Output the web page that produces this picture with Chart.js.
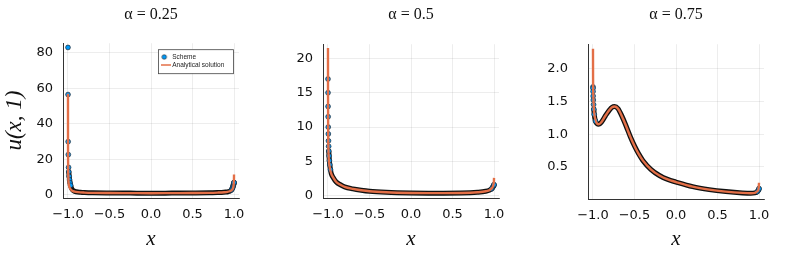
<!DOCTYPE html>
<html>
<head>
<meta charset="utf-8">
<script src="https://cdn.jsdelivr.net/npm/chart.js@4.4.1/dist/chart.umd.min.js"></script>
<style>
  html, body { margin: 0; padding: 0; background: #fff; }
  #wrap { position: relative; width: 793px; height: 253px; overflow: hidden; }
  .panel { position: absolute; top: 0; height: 253px; }
  canvas { display: block; }
</style>
</head>
<body>
<div id="wrap">
  <div class="panel" style="left:0;width:262px"><canvas id="c1" width="262" height="253"></canvas></div>
  <div class="panel" style="left:262px;width:262px"><canvas id="c2" width="262" height="253"></canvas></div>
  <div class="panel" style="left:524px;width:269px"><canvas id="c3" width="269" height="253"></canvas></div>
</div>
<script>
// ---- data ----
const alphaTitles = ["α = 0.25", "α = 0.5", "α = 0.75"];
const xTickValues = [-1, -0.5, 0, 0.5, 1];
const yTicksA25 = [0, 20, 40, 60, 80];
const yTicksA50 = [0, 5, 10, 15, 20];
const yTicksA75 = [0.5, 1.0, 1.5, 2.0];

// alpha = 0.25
const schemeXA25 = [-1, -0.9995, -0.998, -0.996, -0.993, -0.99, -0.986, -0.981, -0.975, -0.968, -0.96, -0.95, -0.93, -0.9, -0.85, -0.8, -0.7, -0.5, -0.25, 0, 0.25, 0.5, 0.7, 0.8, 0.85, 0.9, 0.93, 0.95, 0.96, 0.968, 0.975, 0.981, 0.986, 0.99, 0.993, 0.996, 0.998, 0.9995, 1];
const schemeUA25 = [83, 56.5, 30, 22.7, 15.5, 13, 10.5, 8.5, 6.8, 5.4, 4.2, 3.2, 2.3, 1.8, 1.5, 1.35, 1.2, 1.1, 1.05, 1.0, 1.05, 1.1, 1.2, 1.35, 1.45, 1.65, 1.85, 2.1, 2.4, 2.8, 3.3, 3.9, 4.5, 5.1, 5.7, 6.2, 6.6, 6.9, 7.0];
const exactXA25 = [-1, -0.9995, -0.998, -0.995, -0.99, -0.98, -0.97, -0.95, -0.92, -0.88, -0.8, -0.7, -0.5, -0.25, 0, 0.25, 0.5, 0.7, 0.8, 0.88, 0.92, 0.95, 0.97, 0.98, 0.99, 0.995, 0.998, 0.9995, 1];
const exactUA25 = [57, 30, 16, 9, 6, 4.1, 3.3, 2.4, 1.9, 1.6, 1.35, 1.2, 1.1, 1.05, 1.0, 1.05, 1.1, 1.2, 1.35, 1.55, 1.75, 2.1, 2.6, 3.1, 4.2, 5.6, 7.5, 9.5, 11.5];

// alpha = 0.5
const schemeXA50 = [-1, -0.9995, -0.999, -0.998, -0.997, -0.996, -0.994, -0.992, -0.99, -0.987, -0.983, -0.978, -0.97, -0.96, -0.94, -0.9, -0.85, -0.8, -0.7, -0.6, -0.5, -0.3, 0, 0.3, 0.6, 0.8, 0.9, 0.95, 0.97, 0.98, 0.99, 0.995, 0.998, 1];
const schemeUA50 = [17, 15, 13, 11.5, 10, 9, 8, 7.2, 6.5, 5.8, 5.1, 4.5, 3.8, 3.2, 2.7, 2.0, 1.6, 1.3, 1.0, 0.8, 0.65, 0.5, 0.4, 0.38, 0.4, 0.5, 0.65, 0.85, 1.0, 1.15, 1.35, 1.45, 1.55, 1.6];
const exactXA50 = [-1, -0.9995, -0.998, -0.995, -0.99, -0.98, -0.96, -0.94, -0.9, -0.85, -0.8, -0.7, -0.6, -0.5, -0.3, 0, 0.3, 0.6, 0.8, 0.9, 0.95, 0.98, 0.99, 0.996, 0.999, 1];
const exactUA50 = [21.5, 15, 10, 7, 5.3, 4.2, 3.2, 2.7, 2.0, 1.6, 1.3, 1.0, 0.8, 0.65, 0.5, 0.4, 0.38, 0.4, 0.5, 0.65, 0.85, 1.2, 1.45, 1.8, 2.2, 2.6];

// alpha = 0.75
const schemeXA75 = [-1, -0.9995, -0.999, -0.998, -0.996, -0.993, -0.99, -0.985, -0.97, -0.95, -0.93, -0.9, -0.85, -0.8, -0.77, -0.74, -0.7, -0.65, -0.6, -0.55, -0.5, -0.45, -0.4, -0.3, -0.2, -0.1, 0, 0.2, 0.4, 0.6, 0.8, 0.9, 0.95, 0.98, 0.995, 1];
const schemeUA75 = [1.72, 1.7, 1.65, 1.58, 1.52, 1.45, 1.38, 1.3, 1.2, 1.16, 1.15, 1.18, 1.28, 1.37, 1.41, 1.42, 1.39, 1.27, 1.12, 0.96, 0.82, 0.7, 0.6, 0.46, 0.37, 0.31, 0.27, 0.2, 0.155, 0.125, 0.105, 0.1, 0.105, 0.125, 0.15, 0.17];
const exactXA75 = [-1, -0.999, -0.997, -0.993, -0.985, -0.97, -0.95, -0.93, -0.9, -0.85, -0.8, -0.77, -0.74, -0.7, -0.65, -0.6, -0.55, -0.5, -0.45, -0.4, -0.3, -0.2, -0.1, 0, 0.2, 0.4, 0.6, 0.8, 0.9, 0.95, 0.98, 0.995, 1];
const exactUA75 = [2.3, 1.85, 1.65, 1.48, 1.32, 1.22, 1.16, 1.15, 1.18, 1.28, 1.37, 1.41, 1.42, 1.39, 1.27, 1.12, 0.96, 0.82, 0.7, 0.6, 0.46, 0.37, 0.31, 0.27, 0.2, 0.155, 0.125, 0.105, 0.1, 0.105, 0.13, 0.17, 0.26];

// ---- styling ----
const BLUE = "#009AFA";
const RED = "#E36F47";
const BAND = "#111111";
const GRID = "rgba(0,0,0,0.12)";
const AXIS = "#333333";
const TICK_FONT = { family: "DejaVu Sans", size: 13 };
const SERIF = "Liberation Serif";

const toPts = (xs, ys) => xs.map((x, i) => ({ x, y: ys[i] }));
const minus = (s) => s.replace("-", "\u2212");

// small canvases used as legend icons
function icon(draw) {
  const c = document.createElement("canvas");
  c.width = 11; c.height = 6;
  draw(c.getContext("2d"));
  return c;
}
const schemeIcon = icon((g) => {
  g.beginPath(); g.arc(4, 3, 2.3, 0, Math.PI * 2);
  g.fillStyle = BLUE; g.fill();
  g.strokeStyle = "#222"; g.lineWidth = 0.6; g.stroke();
});
const lineIcon = icon((g) => {
  g.strokeStyle = RED; g.lineWidth = 1.5;
  g.beginPath(); g.moveTo(0, 3); g.lineTo(11, 3); g.stroke();
});

// legend drawn inside the plot, top-right, with a framed white box
const legendBoxPlugin = {
  id: "legendBox",
  afterLayout(chart) {
    const lg = chart.legend;
    if (!lg || !lg.options.display) return;
    const a = chart.chartArea;
    lg.left = a.right - 78;
    lg.top = a.top + 9;
  },
  afterDatasetsDraw(chart) {
    const lg = chart.legend;
    if (!lg || !lg.options.display) return;
    const a = chart.chartArea;
    const ctx = chart.ctx;
    ctx.save();
    ctx.fillStyle = "#fff";
    ctx.strokeStyle = "#444";
    ctx.lineWidth = 0.8;
    ctx.fillRect(a.right - 81, a.top + 6, 75, 24);
    ctx.strokeRect(a.right - 81 + 0.5, a.top + 6 + 0.5, 75, 24);
    ctx.restore();
    lg.draw();
  },
};

function makePanel(p) {
  const datasets = [
    {
      label: "Scheme",
      data: toPts(p.sx, p.su),
      showLine: true,
      borderColor: BAND,
      borderWidth: 5,
      borderCapStyle: "round",
      borderJoinStyle: "round",
      cubicInterpolationMode: "monotone",
      // near x = -1 the scheme values are sparse: show them as separate dots only
      segment: { borderColor: (c) => (c.p0.parsed.x < -0.99 ? "rgba(0,0,0,0)" : undefined) },
      pointRadius: (ctx) => (ctx.raw && Math.abs(ctx.raw.x) > 0.965 ? 2.4 : 0),
      pointBackgroundColor: BLUE,
      pointBorderColor: "#1c2a36",
      pointBorderWidth: 0.7,
      order: 2,
    },
    {
      label: "Analytical solution",
      data: toPts(p.ex, p.eu),
      showLine: true,
      borderColor: RED,
      borderWidth: 2.4,
      cubicInterpolationMode: "monotone",
      pointRadius: 0,
      order: 1,
    },
  ];

  return new Chart(document.getElementById(p.id), {
    type: "scatter",
    data: { datasets },
    options: {
      responsive: false,
      animation: false,
      devicePixelRatio: 1,
      layout: { padding: { left: 0, right: p.padR, top: 0, bottom: 0 } },
      plugins: {
        tooltip: { enabled: false },
        title: {
          display: true,
          text: p.title,
          fullSize: false,
          color: "#111",
          font: { family: SERIF, size: 16, weight: "normal" },
          padding: { top: 5, bottom: p.titleBottom },
        },
        legend: {
          display: !!p.legend,
          position: "chartArea",
          align: "start",
          labels: {
            usePointStyle: true,
            boxWidth: 11,
            boxHeight: 6,
            padding: 1.5,
            color: "#222",
            font: { family: "Liberation Sans", size: 6.5 },
            sort: (a, b) => a.datasetIndex - b.datasetIndex,
            generateLabels(chart) {
              const items = Chart.defaults.plugins.legend.labels.generateLabels(chart);
              items.forEach((it) => { it.pointStyle = it.datasetIndex === 0 ? schemeIcon : lineIcon; });
              return items;
            },
          },
        },
      },
      scales: {
        x: {
          type: "linear",
          min: -1.06,
          max: 1.06,
          afterBuildTicks: (s) => { s.ticks = xTickValues.map((v) => ({ value: v })); },
          afterFit: (s) => { s.height = 253 - p.areaBottom; },
          ticks: {
            color: "#111",
            font: TICK_FONT,
            padding: 9,
            maxRotation: 0,
            callback: (v) => minus(Number(v).toFixed(1)),
          },
          grid: { color: GRID, lineWidth: 0.6, drawTicks: false },
          border: { display: true, color: AXIS, width: 1 },
          title: {
            display: true,
            text: "x",
            color: "#111",
            font: { family: SERIF, size: 21, style: "italic" },
            padding: { top: 0, bottom: 1 },
          },
        },
        y: {
          type: "linear",
          min: p.yMin,
          max: p.yMax,
          afterBuildTicks: (s) => { s.ticks = p.yTicks.map((v) => ({ value: v })); },
          afterFit: (s) => { s.width = p.axisW; },
          ticks: {
            color: "#111",
            font: TICK_FONT,
            padding: p.tickPad,
            callback: (v) => Number(v).toFixed(p.yDigits),
          },
          grid: { color: GRID, lineWidth: 0.6, drawTicks: false },
          border: { display: true, color: AXIS, width: 1 },
          title: {
            display: !!p.yLabel,
            text: "u(x, 1)",
            color: "#111",
            font: { family: SERIF, size: 23, style: "italic" },
            padding: { top: 1, bottom: 0 },
          },
        },
      },
    },
    plugins: [legendBoxPlugin],
  });
}

const panels = [
  { id: "c1", title: alphaTitles[0], sx: schemeXA25, su: schemeUA25, ex: exactXA25, eu: exactUA25,
    yTicks: yTicksA25, yMin: -1.7, yMax: 85.4, yDigits: 0, axisW: 63, padR: 23, areaBottom: 198,
    titleBottom: 19, tickPad: 10, yLabel: true, legend: true },
  { id: "c2", title: alphaTitles[1], sx: schemeXA50, su: schemeUA50, ex: exactXA50, eu: exactUA50,
    yTicks: yTicksA50, yMin: -0.33, yMax: 22.07, yDigits: 0, axisW: 61, padR: 25, areaBottom: 198,
    titleBottom: 20, tickPad: 10 },
  { id: "c3", title: alphaTitles[2], sx: schemeXA75, su: schemeUA75, ex: exactXA75, eu: exactUA75,
    yTicks: yTicksA75, yMin: 0.012, yMax: 2.37, yDigits: 1, axisW: 64, padR: 29, areaBottom: 199,
    titleBottom: 20, tickPad: 20 },
];

panels.forEach(makePanel);
</script>
</body>
</html>
